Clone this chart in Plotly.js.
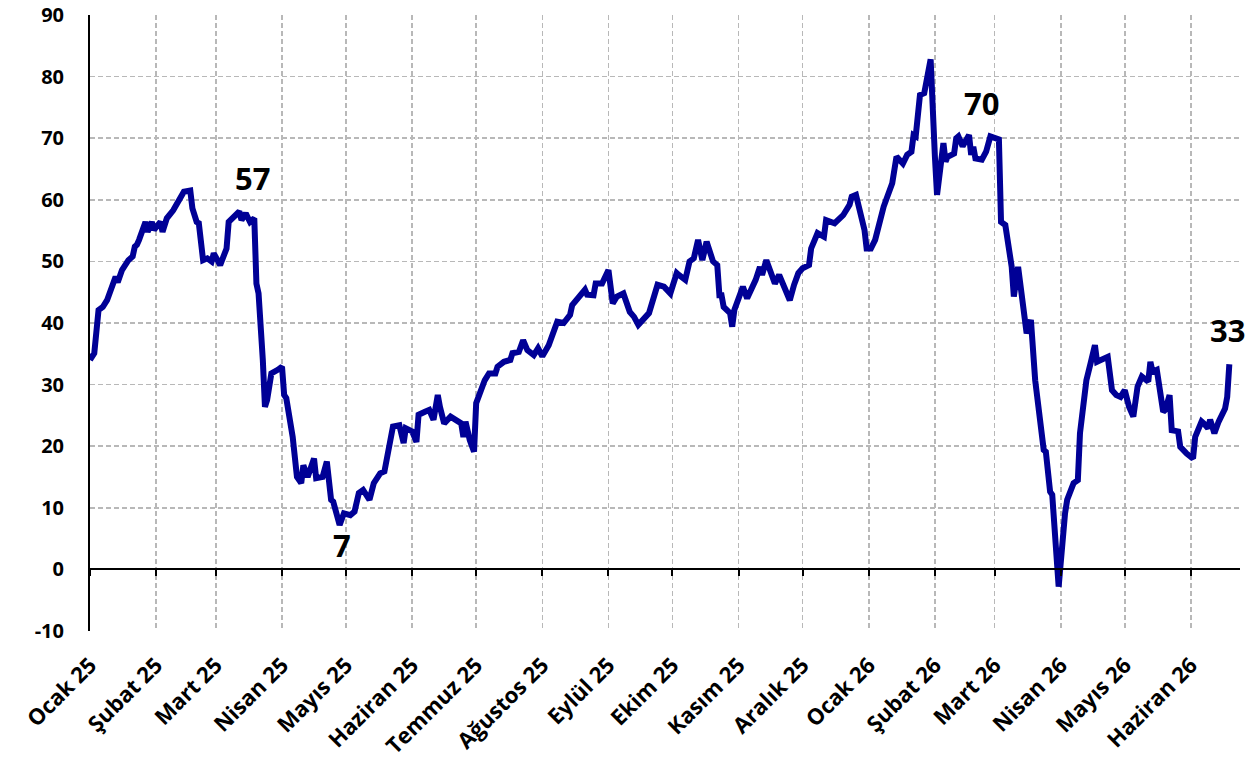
<!DOCTYPE html>
<html>
<head>
<meta charset="utf-8">
<script src="https://cdn.plot.ly/plotly-3.0.1.min.js"></script>
<style>html,body{margin:0;padding:0;background:#fff;}#chart{width:1258px;height:762px;}</style>
</head>
<body>
<div id="chart"></div>
<script>
const dates = [
"2025-01-01","2025-01-03","2025-01-05","2025-01-07","2025-01-09","2025-01-12","2025-01-13","2025-01-14","2025-01-16","2025-01-19",
"2025-01-21","2025-01-22","2025-01-23","2025-01-24","2025-01-27","2025-01-28","2025-01-30","2025-01-31","2025-02-03","2025-02-04",
"2025-02-06","2025-02-09","2025-02-11","2025-02-12","2025-02-14","2025-02-17","2025-02-18","2025-02-20","2025-02-21","2025-02-23",
"2025-02-25","2025-02-27","2025-02-28","2025-03-03","2025-03-05","2025-03-06","2025-03-07","2025-03-11","2025-03-12","2025-03-13",
"2025-03-15","2025-03-17","2025-03-19","2025-03-20","2025-03-21","2025-03-23","2025-03-24","2025-03-25","2025-03-27","2025-03-30",
"2025-04-01","2025-04-02","2025-04-03","2025-04-06","2025-04-08","2025-04-10","2025-04-11","2025-04-13","2025-04-16","2025-04-17",
"2025-04-20","2025-04-22","2025-04-24","2025-04-25","2025-04-28","2025-04-30","2025-05-03","2025-05-05","2025-05-07","2025-05-09",
"2025-05-12","2025-05-14","2025-05-17","2025-05-19","2025-05-22","2025-05-23","2025-05-26","2025-05-28","2025-05-29","2025-06-01",
"2025-06-03","2025-06-04","2025-06-07","2025-06-09","2025-06-11","2025-06-13","2025-06-14","2025-06-16","2025-06-19","2025-06-22",
"2025-06-24","2025-06-25","2025-06-26","2025-06-28","2025-06-30","2025-07-01","2025-07-03","2025-07-05","2025-07-07","2025-07-10",
"2025-07-11","2025-07-14","2025-07-17","2025-07-18","2025-07-21","2025-07-23","2025-07-25","2025-07-28","2025-07-30","2025-08-01",
"2025-08-04","2025-08-06","2025-08-08","2025-08-11","2025-08-14","2025-08-15","2025-08-18","2025-08-21","2025-08-22","2025-08-25",
"2025-08-26","2025-08-29","2025-09-01","2025-09-03","2025-09-05","2025-09-08","2025-09-11","2025-09-13","2025-09-15","2025-09-17",
"2025-09-20","2025-09-24","2025-09-27","2025-09-30","2025-10-03","2025-10-04","2025-10-07","2025-10-09","2025-10-11","2025-10-13",
"2025-10-15","2025-10-17","2025-10-20","2025-10-22","2025-10-23","2025-10-24","2025-10-25","2025-10-28","2025-10-29","2025-10-30",
"2025-11-03","2025-11-05","2025-11-09","2025-11-11","2025-11-12","2025-11-14","2025-11-16","2025-11-18","2025-11-20","2025-11-22",
"2025-11-25","2025-11-27","2025-11-29","2025-12-01","2025-12-04","2025-12-05","2025-12-08","2025-12-11","2025-12-12","2025-12-16",
"2025-12-20","2025-12-23","2025-12-24","2025-12-26","2025-12-28","2025-12-30","2025-12-31","2026-01-02","2026-01-04","2026-01-07",
"2026-01-08","2026-01-12","2026-01-14","2026-01-17","2026-01-19","2026-01-21","2026-01-22","2026-01-23","2026-01-25","2026-01-27",
"2026-01-30","2026-02-01","2026-02-02","2026-02-05","2026-02-06","2026-02-07","2026-02-10","2026-02-11","2026-02-12","2026-02-14",
"2026-02-17","2026-02-18","2026-02-19","2026-02-20","2026-02-23","2026-02-25","2026-02-27","2026-03-03","2026-03-04","2026-03-06",
"2026-03-09","2026-03-10","2026-03-12","2026-03-16","2026-03-18","2026-03-20","2026-03-24","2026-03-25","2026-03-27","2026-03-28",
"2026-03-31","2026-04-03","2026-04-04","2026-04-07","2026-04-09","2026-04-10","2026-04-13","2026-04-15","2026-04-17","2026-04-18",
"2026-04-21","2026-04-23","2026-04-25","2026-04-27","2026-04-29","2026-05-01","2026-05-03","2026-05-05","2026-05-07","2026-05-09",
"2026-05-12","2026-05-13","2026-05-14","2026-05-16","2026-05-19","2026-05-20","2026-05-22","2026-05-23","2026-05-26","2026-05-27",
"2026-05-30","2026-06-02","2026-06-03","2026-06-06","2026-06-07","2026-06-09","2026-06-10","2026-06-12","2026-06-14","2026-06-17",
"2026-06-18","2026-06-19"
];
const values = [
34.0,35.1,42.1,42.6,43.7,47.0,47.5,46.6,48.6,50.2,
50.8,52.4,52.7,53.5,56.4,54.8,56.4,55.1,56.4,54.8,
57.0,58.3,59.4,60.2,61.3,61.5,58.6,56.4,56.2,50.2,
50.5,50.0,51.3,49.4,51.0,52.1,56.4,57.8,58.1,56.7,
57.8,56.4,57.0,46.4,44.8,34.0,26.4,27.5,31.8,32.4,
32.9,28.3,27.8,21.5,15.0,14.0,16.9,15.0,18.0,14.8,
15.0,17.5,11.3,11.0,7.2,9.1,8.8,9.4,12.4,12.9,
11.3,14.0,15.6,15.9,22.4,23.2,23.4,20.5,22.9,22.4,
20.7,25.1,25.6,25.9,24.3,28.3,26.4,23.7,24.8,24.3,
23.7,21.5,24.0,21.0,19.1,27.0,29.1,30.7,31.8,31.8,
32.9,33.7,34.0,35.1,35.3,37.2,35.6,34.8,35.9,34.6,
36.4,38.1,40.2,40.0,41.3,42.9,44.0,45.4,44.6,44.5,
46.4,46.4,48.6,43.2,44.3,44.8,41.8,41.0,39.7,40.5,
41.6,46.2,45.9,44.8,48.1,47.8,47.0,50.0,50.5,53.5,
50.2,53.2,50.0,49.4,44.5,44.5,42.6,41.6,39.4,42.1,
45.9,44.0,47.0,49.1,47.8,50.2,48.1,46.4,47.8,45.9,
43.7,46.2,48.1,48.9,49.4,52.1,54.6,54.0,56.7,56.2,
57.5,59.2,60.5,60.8,57.8,55.1,52.1,52.1,53.5,58.1,
58.9,62.7,67.0,65.9,67.3,67.8,70.5,70.3,77.0,77.3,
82.8,67.0,60.8,69.2,66.2,67.0,67.5,70.0,70.3,68.7,
70.5,67.3,68.6,66.7,66.5,67.8,70.3,69.8,56.4,55.9,
49.1,44.3,49.1,38.3,40.5,30.7,19.4,19.1,12.6,12.1,
-2.8,9.1,11.3,14.0,14.5,22.1,30.7,33.5,36.4,33.7,
34.3,34.5,29.1,28.3,28.0,29.1,26.4,24.8,29.7,31.3,
30.5,33.7,32.1,32.4,25.6,25.9,28.3,22.6,22.4,19.9,
18.8,18.0,21.5,24.0,23.7,22.9,24.3,22.1,24.0,26.1,
28.0,33.3
];
const tickDates = ["2025-01-01","2025-02-01","2025-03-01","2025-04-01","2025-05-01","2025-06-01","2025-07-01","2025-08-01","2025-09-01","2025-10-01","2025-11-01","2025-12-01","2026-01-01","2026-02-01","2026-03-01","2026-04-01","2026-05-01","2026-06-01"];
const tickLabels = ["Ocak 25","Şubat 25","Mart 25","Nisan 25","Mayıs 25","Haziran 25","Temmuz 25","Ağustos 25","Eylül 25","Ekim 25","Kasım 25","Aralık 25","Ocak 26","Şubat 26","Mart 26","Nisan 26","Mayıs 26","Haziran 26"];
const yTickVals = [-10,0,10,20,30,40,50,60,70,80,90];
const yTickLabels = ["-10","0","10","20","30","40","50","60","70","80","90"];
const labelTexts = ["57","7","70","33"];
const labelDates = ["2025-03-18","2025-04-29","2026-02-23","2026-06-18"];
const labelValues = [63.5,4.0,75.7,38.9];

const xRange = ["2025-01-01","2026-06-24"];
const FONT = "'Open Sans', sans-serif";
const gridCol = "#B8B8B8";

const traces = [
  {x: dates, y: values, type: "scatter", mode: "lines",
   line: {color: "#000096", width: 6}, hoverinfo: "x+y", showlegend: false},
  {x: [dates[0]], y: [null], xaxis: "x2", type: "scatter", mode: "lines", showlegend: false, hoverinfo: "skip"}
];

const annotations = labelTexts.map((t, i) => ({
  x: labelDates[i], y: labelValues[i], xref: "x", yref: "y", text: t, showarrow: false,
  font: {family: FONT, size: 31, color: "#000", weight: 700}
}));

const layout = {
  width: 1258, height: 762,
  margin: {l: 90, r: 18, t: 15, b: 131},
  paper_bgcolor: "#fff", plot_bgcolor: "#fff",
  font: {family: FONT, color: "#000"},
  showlegend: false,
  xaxis: {
    type: "date", range: xRange, tickmode: "array", tickvals: tickDates, ticktext: tickLabels,
    tickangle: -45, showgrid: true, gridcolor: gridCol, gridwidth: 1.5, griddash: "5px,3px",
    showline: false, zeroline: false, ticks: "", ticklabelstandoff: 16,
    tickfont: {family: FONT, size: 22, color: "#000", weight: 700}
  },
  xaxis2: {
    type: "date", overlaying: "x", anchor: "free", position: 0.1, range: xRange,
    tickmode: "array", tickvals: tickDates, showticklabels: false, showgrid: false, zeroline: false,
    showline: true, linecolor: "#000", linewidth: 2, ticks: "outside", ticklen: 6, tickwidth: 2, tickcolor: "#000"
  },
  yaxis: {
    range: [-10, 90], tickmode: "array", tickvals: yTickVals, ticktext: yTickLabels,
    showgrid: true, gridcolor: gridCol, gridwidth: 1.5, griddash: "5px,3px",
    zeroline: false, showline: true, linecolor: "#000", linewidth: 2, ticks: "", ticklabelstandoff: 20,
    tickfont: {family: FONT, size: 20, color: "#000", weight: 700}
  },
  annotations: annotations
};

Plotly.newPlot("chart", traces, layout, {displayModeBar: false, staticPlot: true});
</script>
</body>
</html>
